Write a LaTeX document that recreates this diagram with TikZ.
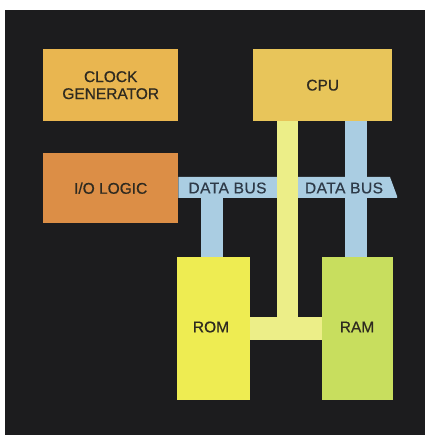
\documentclass[tikz,border=0pt]{standalone}
\usepackage{fontspec}
\setmainfont{Liberation Sans}[FakeBold=0.6]
\definecolor{bg}{HTML}{1C1C1E}
\definecolor{clockc}{HTML}{E9B650}
\definecolor{cpuc}{HTML}{E8C55A}
\definecolor{ioc}{HTML}{DC8E46}
\definecolor{romc}{HTML}{EEEC52}
\definecolor{ramc}{HTML}{C8DE5E}
\definecolor{busblue}{HTML}{AACDE2}
\definecolor{busyellow}{HTML}{ECEE88}
\definecolor{txt}{HTML}{2E2A20}
\definecolor{bustxt}{HTML}{2E3A48}
\tikzset{
  box/.style={rectangle, inner sep=0pt, anchor=north west, align=center,
    text=txt, font=\fontsize{15.5}{17}\selectfont},
  buslabel/.style={inner sep=0pt, text=bustxt,
    font=\fontsize{15.5}{17}\selectfont\addfontfeature{LetterSpace=3}},
  bluebus/.style={draw=busblue, line width=22pt},
  yellowbus/.style={draw=busyellow, line width=21pt},
}
\begin{document}
\begin{tikzpicture}[x=1pt,y=-1pt]
\useasboundingbox (0,0) rectangle (425,435);
\fill[white] (0,0) rectangle (425,435);
\fill[bg] (5,10) rectangle (425,435);
% boxes
\node[box, fill=clockc, minimum width=135pt, minimum height=72pt] (clock) at (43,49) {CLOCK\\GENERATOR};
\node[box, fill=cpuc, minimum width=139pt, minimum height=72pt] (cpu) at (253,49) {CPU};
\node[box, fill=ioc, minimum width=135pt, minimum height=70pt] (io) at (43,153) {I/O LOGIC};
\node[box, fill=romc, minimum width=73pt, minimum height=143pt] (rom) at (177,257) {};
\node[box, fill=ramc, minimum width=71pt, minimum height=143pt] (ram) at (322,257) {};
% data bus band
\coordinate (busend) at (397,198);
\fill[busblue] (io.east |- 0,177) -- (390,177) -- (397,196) -- (busend) -- (io.east |- 0,198) -- cycle;
% blue verticals
\draw[bluebus] (rom.north -| 211.5,0) -- (211.5,197);
\draw[bluebus] (ram.north -| 356,0) -- (cpu.south -| 356,0);
% yellow bus
\draw[yellowbus] (cpu.south -| 287.5,0) -- (287.5,340);
\draw[draw=busyellow, line width=23pt] (rom.east |- 0,328.5) -- (ram.west |- 0,328.5);
% labels
\node[buslabel] (db1) at (227.5,188) {DATA BUS};
\node[buslabel] (db2) at (344,188) {DATA BUS};
\node[box, anchor=center] (romlbl) at (211,327) {ROM};
\node[box, anchor=center] (ramlbl) at (357,327) {RAM};
\end{tikzpicture}
\end{document}
